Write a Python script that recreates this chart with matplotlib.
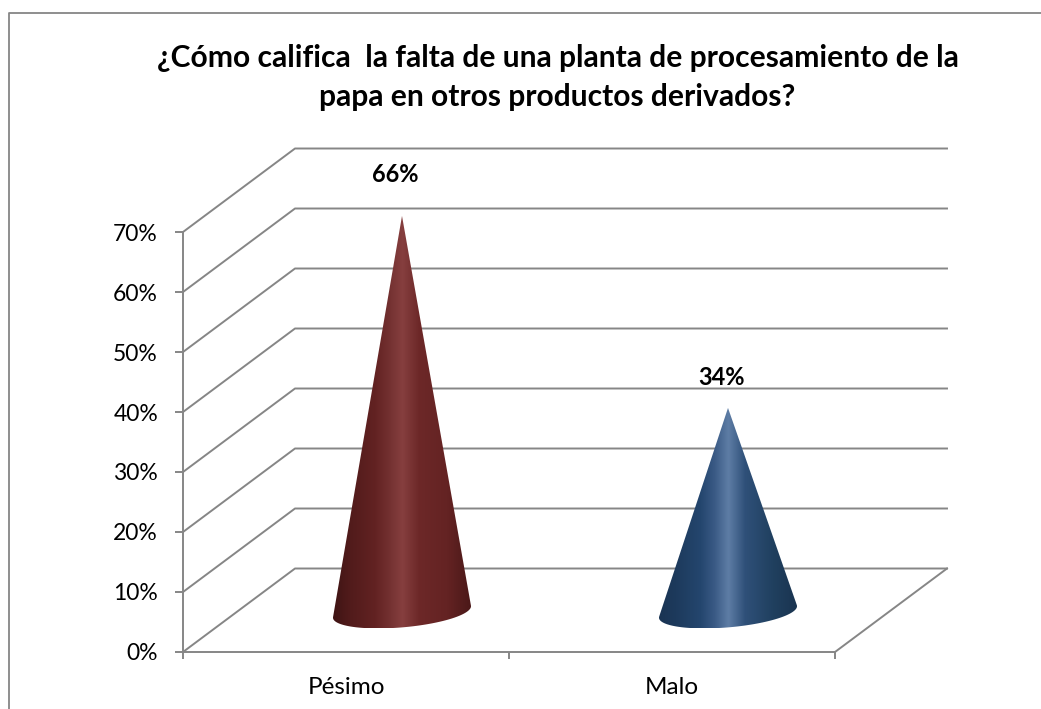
import numpy as np
import matplotlib
matplotlib.use("Agg")
import matplotlib.pyplot as plt
from matplotlib.colors import LinearSegmentedColormap
from matplotlib.lines import Line2D
from matplotlib.patches import Polygon

categories = ["Pésimo", "Malo"]
values = [0.66, 0.34]
value_labels = ["66%", "34%"]
y_ticks = [0, 0.1, 0.2, 0.3, 0.4, 0.5, 0.6, 0.7]
y_tick_labels = ["0%", "10%", "20%", "30%", "40%", "50%", "60%", "70%"]
title = "¿Cómo califica  la falta de una planta de procesamiento de la\npapa en otros productos derivados?"

GREY = "#868686"
stops = [0, 0.12, 0.3, 0.4, 0.5, 0.62, 0.82, 1]
red_stops = ["#3f1414", "#511b1b", "#622222", "#723030", "#863f3f", "#6d2828", "#642323", "#4a1818"]
blue_stops = ["#1a3453", "#1d3a5c", "#24466e", "#3a5a85", "#5e7da5", "#2f5079", "#20405f", "#1a3450"]
cone_colors = [red_stops, blue_stops]
label_offsets = [41, 30]  # px above the tip

plt.rcParams["font.family"] = ["Lato", "DejaVu Sans"]

W, H = 1041, 709
fig = plt.figure(figsize=(W / 100, H / 100), dpi=100)

# plot area = front plane of the fake 3d box, in pixels
left, right, bottom, top = 183, 835, 652, 232
ax = fig.add_axes([left / W, 1 - bottom / H, (right - left) / W, (bottom - top) / H])
ax.patch.set_visible(False)
ax.set_xlim(0, 2)
ax.set_ylim(0, 0.7)

# px to data
px_x = 2 / (right - left)
px_y = 0.7 / (bottom - top)
depth_x = 112 * px_x
depth_y = 83.5 * px_y

# gridlines along side wall and back wall
for t in y_ticks:
    ax.plot([0, depth_x, 2 + depth_x], [t, t + depth_y, t + depth_y], color=GREY, lw=1.4, clip_on=False, zorder=1)
ax.plot([2, 2 + depth_x], [0, depth_y], color=GREY, lw=1.4, clip_on=False, zorder=1)

for s in ["top", "right"]:
    ax.spines[s].set_visible(False)
for s in ["left", "bottom"]:
    ax.spines[s].set_color(GREY)
    ax.spines[s].set_linewidth(1.4)

ax.set_yticks(y_ticks)
ax.set_yticklabels(y_tick_labels, fontsize=16.5, color="black", va="center_baseline")
ax.tick_params(axis="y", length=6, width=1.4, color=GREY, pad=12)
ax.set_xticks([0, 1, 2])
ax.set_xticklabels([])
ax.tick_params(axis="x", length=5, width=1.4, color=GREY)
ax.set_xticks([0.5, 1.5], minor=True)
ax.set_xticklabels(categories, minor=True, fontsize=17.5, color="black")
ax.tick_params(axis="x", which="minor", length=0, pad=18)

# cones
tt = np.linspace(0, 2 * np.pi, 200)
for i, v in enumerate(values):
    cx = i + 0.5 + depth_x * 0.5
    cy = depth_y * 0.48
    ex = cx + np.cos(tt) * 64.7 * px_x + np.sin(tt) * 24 * px_x
    ey = cy + np.sin(tt) * 16.5 * px_y
    tip = (cx, cy + v)

    # outline: tip plus the ellipse part seen from it
    ang = np.arctan2((ex - tip[0]) / px_x, -(ey - tip[1]) / px_y)
    i_l, i_r = np.argmin(ang), np.argmax(ang)
    order = (i_l + np.arange(200)) % 200
    arc = order[: ((i_r - i_l) % 200) + 1]
    # keep the lower arc
    if ey[arc].min() > ey.min() + 1e-9:
        order = (i_r + np.arange(200)) % 200
        arc = order[: ((i_l - i_r) % 200) + 1]
    poly = np.column_stack([np.r_[tip[0], ex[arc]], np.r_[tip[1], ey[arc]]])

    patch = Polygon(poly, closed=True, transform=ax.transData, facecolor="none", edgecolor="none")
    ax.add_patch(patch)
    patch.set_clip_on(False)
    cmap = LinearSegmentedColormap.from_list("cone", list(zip(stops, cone_colors[i])))
    im = ax.imshow(np.linspace(0, 1, 256).reshape(1, -1), cmap=cmap, aspect="auto", zorder=3,
                   extent=[ex.min(), ex.max(), ey.min(), tip[1]], interpolation="bilinear")
    im.set_clip_box(fig.bbox)  # tip sticks out above the 70% level
    im.set_clip_path(patch)

    ax.annotate(value_labels[i], xy=tip, xytext=(-6.5 * 0.72, label_offsets[i] * 0.72), textcoords="offset points",
                ha="center", va="center", fontsize=17, fontweight="bold", annotation_clip=False, zorder=4)

ax.set_xlim(0, 2)
ax.set_ylim(0, 0.7)

fig.text(557.5 / W, 1 - 77.5 / H, title, ha="center", va="center", fontsize=21.6, fontweight="bold",
         linespacing=1.5)

# chart frame, only top and left edges are inside the picture
fig.add_artist(Line2D([8.5 / W, 8.5 / W, 1], [0, 1 - 12.5 / H, 1 - 12.5 / H], color=GREY, lw=1.3))

fig.savefig("out.png", dpi=100)
